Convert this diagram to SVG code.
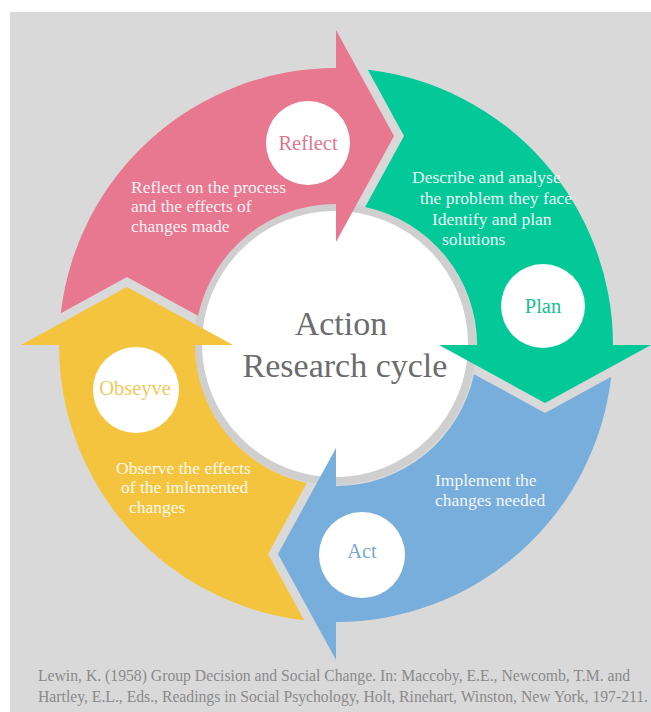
<svg xmlns="http://www.w3.org/2000/svg" xmlns:xlink="http://www.w3.org/1999/xlink" width="651" height="712" viewBox="0 0 651 712">
  <style>
    .serif { font-family: "Liberation Serif", "Times New Roman", serif; }
    .body { font-size: 17.5px; fill: #ffffff; fill-opacity: 0.93; }
    .label { font-size: 20.5px; text-anchor: middle; }
    .badge { fill: #ffffff; }
    .title { font-size: 34px; fill: #6c6c6c; text-anchor: middle; }
    .cite { font-size: 15.7px; fill: #8a8a8a; }
  </style>
  <defs>
    <!-- one quarter of the ring: body arc, arrowhead at the end, V-notch at the start
         (drawn around the origin, pointing clockwise from 9 o'clock to 12 o'clock) -->
    <path id="quarter" d="M -275.2,-31.8 A 277 277 0 0 1 0,-277 L 0,-315 L 58,-209 L 0,-103 L 0,-141 A 141 141 0 0 0 -137.96,-29.13 L -209,-68 Z"/>
  </defs>

  <!-- page -->
  <rect x="0" y="0" width="651" height="712" fill="#ffffff"/>
  <rect x="10" y="12" width="641" height="700" fill="#d9d9d9"/>

  <!-- hub -->
  <g id="hub">
    <circle cx="335" cy="344" r="137" fill="#ffffff" stroke="#cfcfcf" stroke-width="8"/>
    <text class="serif title" x="341" y="335">Action</text>
    <text class="serif title" x="345" y="377">Research cycle</text>
  </g>

  <!-- Reflect -->
  <g id="reflect">
    <use xlink:href="#quarter" href="#quarter" transform="translate(336,345)" fill="#e8788f"/>
    <circle class="badge" cx="308" cy="143" r="42"/>
    <text class="serif label" x="308" y="150" fill="#e0768f">Reflect</text>
    <text class="serif body" x="131" y="193">Reflect on the process</text>
    <text class="serif body" x="131" y="212">and the effects of</text>
    <text class="serif body" x="131" y="232">changes made</text>
  </g>

  <!-- Plan -->
  <g id="plan">
    <use xlink:href="#quarter" href="#quarter" transform="translate(336,345) rotate(90)" fill="#03c999"/>
    <circle class="badge" cx="543" cy="306" r="42"/>
    <text class="serif label" x="543" y="313" fill="#14bf8f">Plan</text>
    <text class="serif body" x="412" y="183">Describe and analyse</text>
    <text class="serif body" x="420" y="204">the problem they face</text>
    <text class="serif body" x="432" y="225">Identify and plan</text>
    <text class="serif body" x="442" y="245">solutions</text>
  </g>

  <!-- Act -->
  <g id="act">
    <use xlink:href="#quarter" href="#quarter" transform="translate(336,345) rotate(180)" fill="#78aedb"/>
    <circle class="badge" cx="362" cy="555" r="43"/>
    <text class="serif label" x="362" y="558" fill="#7ba7d5">Act</text>
    <text class="serif body" x="435" y="486">Implement the</text>
    <text class="serif body" x="435" y="506">changes needed</text>
  </g>

  <!-- Observe -->
  <g id="observe">
    <use xlink:href="#quarter" href="#quarter" transform="translate(336,345) rotate(270)" fill="#f5c43e"/>
    <circle class="badge" cx="136" cy="390" r="43"/>
    <text class="serif label" x="135" y="395" fill="#f2c85a">Obseyve</text>
    <text class="serif body" x="116" y="474">Observe the effects</text>
    <text class="serif body" x="121" y="493">of the imlemented</text>
    <text class="serif body" x="129" y="513">changes</text>
  </g>

  <!-- reference line -->
  <g id="citation">
    <text class="serif cite" x="38" y="681">Lewin, K. (1958) Group Decision and Social Change. In: Maccoby, E.E., Newcomb, T.M. and</text>
    <text class="serif cite" x="38" y="702" textLength="610" lengthAdjust="spacing">Hartley, E.L., Eds., Readings in Social Psychology, Holt, Rinehart, Winston, New York, 197-211.</text>
  </g>
</svg>
